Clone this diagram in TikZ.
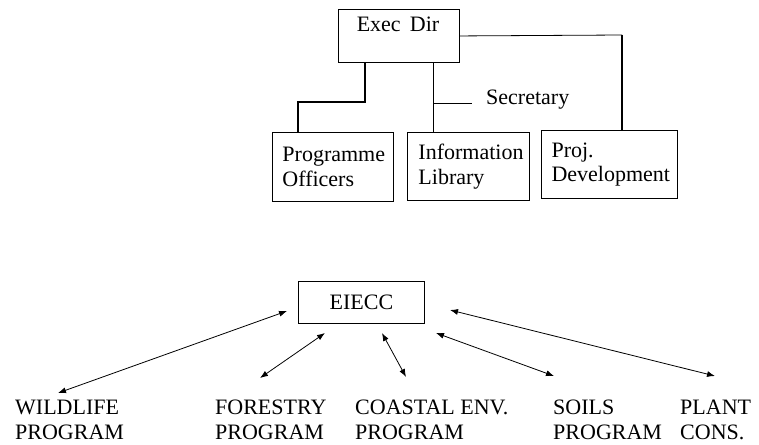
\documentclass[tikz,border=0pt]{standalone}
\usepackage{fontspec}
\setmainfont{Liberation Serif}
\usetikzlibrary{arrows.meta}
\begin{document}
\begin{tikzpicture}[x=1pt,y=-1pt,
  every node/.style={font=\fontsize{22}{24.5}\selectfont},
  box/.style={draw,line width=0.9pt,anchor=north west,inner xsep=10pt,inner ysep=0pt,align=left},
  lbl/.style={inner sep=0pt,anchor=north west,align=left},
  thickline/.style={line width=1.8pt},
  medline/.style={line width=1.3pt},
  thinline/.style={line width=0.8pt},
  biarrow/.style={line width=0.8pt,{Latex[length=8pt,width=6pt]}-{Latex[length=8pt,width=6pt]}}]
\useasboundingbox (0,0) rectangle (759,444);
% top organisation chart
\node[box,minimum width=121pt,minimum height=53pt] (exec) at (338,9) {};
\node[inner sep=0pt,anchor=base] (execlbl) at (398,32) {Exec\ \,Dir};
\node[box,minimum width=121pt,minimum height=69pt,text width=101pt] (prog) at (272,132) {Programme\\Officers};
\node[box,minimum width=121pt,minimum height=68pt,text width=100pt,inner xsep=11pt] (info) at (407,132) {Information\\Library};
\node[box,minimum width=136pt,minimum height=68pt,text width=116pt,line width=1.1pt] (proj) at (541,130) {Proj.\\Development};
\node[inner sep=0pt,anchor=base west] (sec) at (486,104) {Secretary};
\coordinate (c1) at (298,102);
\coordinate (m) at ([xshift=95pt]exec.south west);
\coordinate (s) at (472,103);
\coordinate (p) at (622,35);
\draw[thickline] ([xshift=27pt]exec.south west) |- (c1) -- (c1 |- prog.north);
\draw[thinline] (m) -- (m |- info.north);
\draw[thinline] (m |- s) -- (s);
\draw[thinline] (exec.east) -- (p);
\draw[medline] (p) -- (p |- proj.north);
% bottom
\node[draw,line width=0.9pt,minimum width=126pt,minimum height=42pt,anchor=north west] (eiecc) at (298,281) {EIECC};
\node[lbl] (wild) at (15,400) {WILDLIFE\\PROGRAM};
\node[lbl] (fore) at (215,400) {FORESTRY\\PROGRAM};
\node[lbl] (coast) at (355,400) {COASTAL ENV.\\PROGRAM};
\node[lbl] (soil) at (553,400) {SOILS\\PROGRAM};
\node[lbl] (plant) at (680,400) {PLANT\\CONS.};
\coordinate (w1) at (287,311); \coordinate (w2) at (58,393);
\coordinate (f1) at (325,333); \coordinate (f2) at (260,378);
\coordinate (k1) at (382,333); \coordinate (k2) at (406,377);
\coordinate (s1) at (436,333); \coordinate (s2) at (554,376);
\coordinate (p1) at (450,310); \coordinate (p2) at (715,376);
\draw[biarrow] (w1) -- (w2);
\draw[biarrow] (f1) -- (f2);
\draw[biarrow] (k1) -- (k2);
\draw[biarrow] (s1) -- (s2);
\draw[biarrow] (p1) -- (p2);
\end{tikzpicture}
\end{document}
